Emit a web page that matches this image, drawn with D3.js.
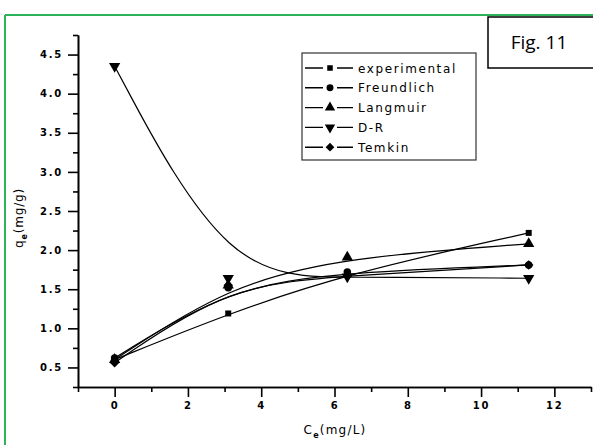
<!DOCTYPE html>
<html>
<head>
<meta charset="utf-8">
<script src="https://cdn.jsdelivr.net/npm/d3@7"></script>
<style>
  html, body { margin: 0; padding: 0; background: #fff; }
  svg { display: block; }
  .tick text { font-family: "DejaVu Sans", sans-serif; font-weight: bold; font-size: 10px; letter-spacing: 1.8px; fill: #000; }
</style>
</head>
<body>
<svg id="chart" width="593" height="445"></svg>
<script>
// Equilibrium concentration (mg/L) at each measured point
const ceValues = [0, 3.1, 6.35, 11.3];

// Adsorbed amount q_e (mg/g) per series
const experimental = [0.60, 1.19, 1.70, 2.22];
const freundlich   = [0.62, 1.52, 1.72, 1.81];
const langmuir     = [0.60, 1.55, 1.91, 2.08];
const dubininR     = [4.35, 1.64, 1.66, 1.64];
const temkin       = [0.56, 1.55, 1.67, 1.81];

const seriesNames = ["experimental", "Freundlich", "Langmuir", "D-R", "Temkin"];
const seriesSymbols = ["square", "circle", "triangleUp", "triangleDown", "diamond"];
const seriesValues = [experimental, freundlich, langmuir, dubininR, temkin];

const xMajorTicks = [0, 2, 4, 6, 8, 10, 12];
const xMinorTicks = [-1, 1, 3, 5, 7, 9, 11, 13];
const yMajorTicks = [0.5, 1.0, 1.5, 2.0, 2.5, 3.0, 3.5, 4.0, 4.5];
const yMinorTicks = [0.25, 0.75, 1.25, 1.75, 2.25, 2.75, 3.25, 3.75, 4.25, 4.75];

const svg = d3.select("#chart");

const x = d3.scaleLinear().domain([-1, 13]).range([78, 591]);
const y = d3.scaleLinear().domain([0.25, 4.75]).range([387, 35]);

// Green page frame (top and left edges)
svg.append("line").attr("x1", 5).attr("x2", 593).attr("y1", 15).attr("y2", 15)
  .attr("stroke", "#2db35a").attr("stroke-width", 2);
svg.append("line").attr("x1", 5).attr("x2", 5).attr("y1", 15).attr("y2", 445)
  .attr("stroke", "#2db35a").attr("stroke-width", 2);

// Axes
function styleAxis(g) {
  g.select(".domain").attr("stroke", "#000").attr("stroke-width", 1.6);
  g.selectAll(".tick line").attr("stroke", "#000").attr("stroke-width", 1.6);
}

svg.append("g").attr("transform", "translate(0,387)")
  .call(d3.axisBottom(x).tickValues(xMinorTicks).tickSize(5).tickFormat("").tickSizeOuter(0))
  .call(styleAxis);
svg.append("g").attr("transform", "translate(0,387)")
  .call(d3.axisBottom(x).tickValues(xMajorTicks).tickSize(10).tickPadding(5).tickFormat(d3.format("d")).tickSizeOuter(0))
  .call(styleAxis);

svg.append("g").attr("transform", "translate(78,0)")
  .call(d3.axisLeft(y).tickValues(yMinorTicks).tickSize(5).tickFormat("").tickSizeOuter(0))
  .call(styleAxis);
svg.append("g").attr("transform", "translate(78,0)")
  .call(d3.axisLeft(y).tickValues(yMajorTicks).tickSize(10).tickPadding(5).tickFormat(d3.format(".1f")).tickSizeOuter(0))
  .call(styleAxis);

// Axis titles
const yTitle = svg.append("text")
  .attr("transform", "translate(23,218) rotate(-90)")
  .attr("text-anchor", "middle")
  .attr("font-family", "DejaVu Sans, sans-serif")
  .attr("font-size", 12)
  .attr("letter-spacing", 0.8);
yTitle.append("tspan").text("q");
yTitle.append("tspan").attr("font-size", 8).attr("font-weight", "bold").attr("dy", 4).text("e");
yTitle.append("tspan").attr("dy", -4).text("(mg/g)");

const xTitle = svg.append("text")
  .attr("x", 335).attr("y", 434)
  .attr("text-anchor", "middle")
  .attr("font-family", "DejaVu Sans, sans-serif")
  .attr("font-size", 12)
  .attr("letter-spacing", 1.2);
xTitle.append("tspan").text("C");
xTitle.append("tspan").attr("font-size", 8).attr("font-weight", "bold").attr("dy", 4).text("e");
xTitle.append("tspan").attr("dy", -4).text("(mg/L)");

// Marker shapes; the diamond is a square turned 45 degrees
function symbolPath(kind, scale) {
  const sizes = { square: 36, circle: 45, triangleUp: 55, triangleDown: 55, diamond: 45 };
  const types = { square: d3.symbolSquare, circle: d3.symbolCircle, triangleUp: d3.symbolTriangle,
                  triangleDown: d3.symbolTriangle, diamond: d3.symbolSquare };
  return d3.symbol().type(types[kind]).size(sizes[kind] * scale)();
}
function drawSymbol(g, kind, cx, cy, scale = 1) {
  const rot = kind === "triangleDown" ? " rotate(180)" : kind === "diamond" ? " rotate(45)" : "";
  g.append("path")
    .attr("d", symbolPath(kind, scale))
    .attr("transform", `translate(${cx},${cy})${rot}`)
    .attr("fill", "#000");
}

// B-spline curves through each series' points
const line = d3.line()
  .x((d, i) => x(ceValues[i]))
  .y(d => y(d))
  .curve(d3.curveBasis);

const plot = svg.append("g");
seriesValues.forEach((vals) => {
  plot.append("path")
    .datum(vals)
    .attr("d", line)
    .attr("fill", "none")
    .attr("stroke", "#000")
    .attr("stroke-width", 1.2);
});
seriesValues.forEach((vals, s) => {
  vals.forEach((v, i) => drawSymbol(plot, seriesSymbols[s], x(ceValues[i]), y(v)));
});

// Legend
const legend = svg.append("g");
legend.append("rect")
  .attr("x", 302).attr("y", 53).attr("width", 174).attr("height", 107)
  .attr("fill", "#fff").attr("stroke", "#333").attr("stroke-width", 1.2);
seriesNames.forEach((name, i) => {
  const ly = 68 + i * 19.8;
  legend.append("line").attr("x1", 305).attr("x2", 353).attr("y1", ly).attr("y2", ly)
    .attr("stroke", "#000").attr("stroke-width", 1.4);
  legend.append("rect").attr("x", 323).attr("y", ly - 5).attr("width", 14).attr("height", 10).attr("fill", "#fff");
  drawSymbol(legend, seriesSymbols[i], 330, ly, 0.85);
  legend.append("text")
    .attr("x", 358).attr("y", ly + 4.5)
    .attr("font-family", "DejaVu Sans, sans-serif")
    .attr("font-size", 12)
    .attr("letter-spacing", 1.6)
    .attr("fill", "#000")
    .text(name);
});

// Figure tag
svg.append("rect")
  .attr("x", 488).attr("y", 17).attr("width", 110).attr("height", 51)
  .attr("fill", "#fff").attr("stroke", "#000").attr("stroke-width", 1.5);
svg.append("text")
  .attr("x", 539).attr("y", 49)
  .attr("text-anchor", "middle")
  .attr("font-family", "Open Sans, sans-serif")
  .attr("font-size", 19)
  .attr("fill", "#000")
  .text("Fig. 11");
</script>
</body>
</html>
